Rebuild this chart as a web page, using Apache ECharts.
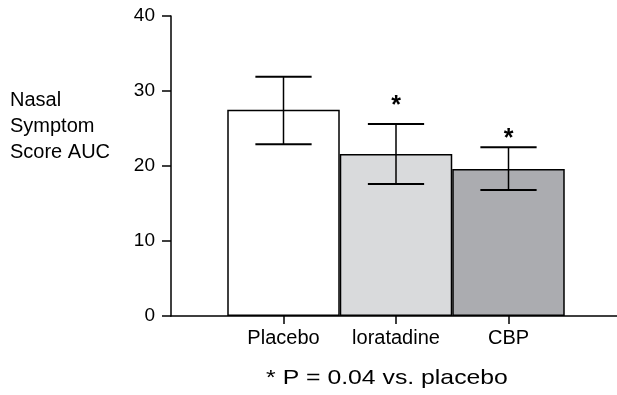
<!DOCTYPE html>
<html><head><meta charset="utf-8">
<script src="https://cdn.jsdelivr.net/npm/echarts@6/dist/echarts.min.js"></script>
<style>html,body{margin:0;padding:0;background:#fff}#c{width:617px;height:395px}</style>
</head><body><div id="c"></div>
<script>
var categories = ['Placebo', 'loratadine', 'CBP'];
var means = [27.5, 21.6, 19.6];
var lower = [22.9, 17.6, 16.8];
var upper = [31.9, 25.6, 22.5];
var starValues = [null, 28.6, 24.3];
var yTicks = [0, 10, 20, 30, 40];
var barColors = ['#ffffff', '#d9dadc', '#abacb0'];

var axisData = [''].concat(categories).concat(['']);
var FONT = 'Liberation Sans, Arial, sans-serif';

var barData = ['-'];
means.forEach(function (v, i) {
  barData.push({ value: v, itemStyle: { color: barColors[i] } });
});
barData.push('-');

var errData = categories.map(function (c, i) { return [i + 1, lower[i], upper[i], starValues[i]]; });

var chart = echarts.init(document.getElementById('c'), null, { renderer: 'canvas' });
chart.setOption({
  animation: false,
  grid: { left: 171, top: 16, bottom: 79, width: 450, containLabel: false, outerBoundsMode: 'none' },
  xAxis: {
    type: 'category', data: axisData, boundaryGap: false,
    axisLine: { lineStyle: { color: '#000', width: 1.5 } },
    axisTick: { length: 8, lineStyle: { color: '#000', width: 1.5 },
      interval: function (i) { return i > 0 && i <= categories.length; } },
    axisLabel: { color: '#000', fontSize: 20, fontFamily: FONT, margin: 12, interval: 0 },
    splitLine: { show: false }
  },
  yAxis: {
    type: 'value', min: yTicks[0], max: yTicks[yTicks.length - 1], interval: 10,
    axisLine: { show: true, lineStyle: { color: '#000', width: 1.5 } },
    axisTick: { show: true, length: 9, lineStyle: { color: '#000', width: 1.5 } },
    axisLabel: { color: '#000', fontSize: 19, fontFamily: FONT, margin: 16 },
    splitLine: { show: false }
  },
  series: [
    {
      type: 'bar', data: barData, barWidth: '100%', barGap: '-100%',
      itemStyle: { borderColor: '#000', borderWidth: 1.5 }
    },
    {
      type: 'custom', data: errData, z: 10,
      renderItem: function (params, api) {
        var x = api.value(0);
        var lo = api.coord([x, api.value(1)]);
        var hi = api.coord([x, api.value(2)]);
        var half = api.size([1, 0])[0] * 0.25;
        var children = [
          { type: 'line', shape: { x1: lo[0], y1: lo[1], x2: hi[0], y2: hi[1] }, style: { stroke: '#000', lineWidth: 1.5 } },
          { type: 'line', shape: { x1: lo[0] - half, y1: lo[1], x2: lo[0] + half, y2: lo[1] }, style: { stroke: '#000', lineWidth: 2.2 } },
          { type: 'line', shape: { x1: hi[0] - half, y1: hi[1], x2: hi[0] + half, y2: hi[1] }, style: { stroke: '#000', lineWidth: 2.2 } }
        ];
        var s = api.value(3);
        if (s !== null && !isNaN(s)) {
          var p = api.coord([x, s]);
          children.push({ type: 'text', x: p[0], y: p[1] + 5,
            style: { text: '*', fontSize: 25, fontWeight: 'bold', fontFamily: FONT, fill: '#000', align: 'center', verticalAlign: 'middle' } });
        }
        return { type: 'group', children: children };
      },
      encode: { x: 0, y: [1, 2] }
    }
  ],
  graphic: [
    { type: 'text', left: 10, top: 87,
      style: { text: 'Nasal\nSymptom\nScore AUC', fontSize: 20, lineHeight: 26, fontFamily: FONT, fill: '#000' } },
    { type: 'text', x: 387, y: 378, scaleX: 1.18,
      style: { text: '* P = 0.04 vs. placebo', fontSize: 21, fontFamily: FONT, fill: '#000', align: 'center', verticalAlign: 'middle' } }
  ]
});
</script></body></html>
